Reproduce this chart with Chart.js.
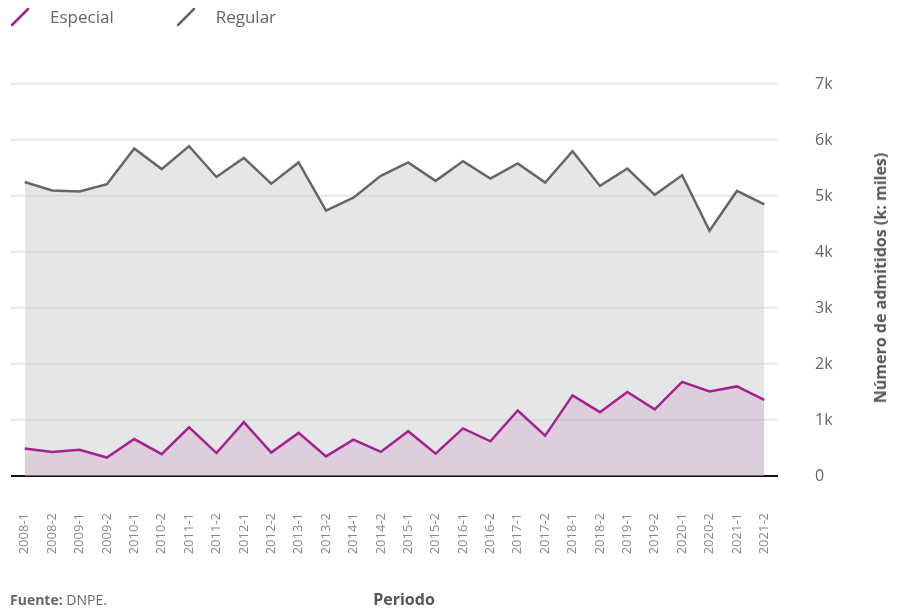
<!DOCTYPE html>
<html lang="es">
<head>
<meta charset="utf-8">
<script src="https://cdn.jsdelivr.net/npm/chart.js@4"></script>
<style>
  html, body { margin: 0; padding: 0; background: #fff; }
  body { width: 899px; height: 609px; position: relative; overflow: hidden; font-family: "Open Sans", "Noto Sans", sans-serif; color: #666; }
  #wrap { position: absolute; left: 0; top: 0; width: 899px; height: 609px; }
  .legend { position: absolute; top: 5px; left: 10px; display: flex; font-size: 17px; color: #666; }
  .legend .item { display: flex; align-items: center; margin-right: 62px; }
  .legend svg { margin-right: 20px; }
  .ytitle { position: absolute; left: 880px; top: 278px; transform: translate(-50%, -50%) rotate(-90deg); white-space: nowrap; font-weight: bold; font-size: 16px; color: #555; }
  .fuente { position: absolute; left: 10px; top: 590px; font-size: 14px; color: #666; }
  .periodo { position: absolute; left: 404px; top: 588px; transform: translateX(-50%); font-size: 16px; font-weight: bold; color: #555; }
</style>
</head>
<body>
<div id="wrap"><canvas id="chart" width="899" height="609"></canvas></div>
<div class="legend">
  <div class="item"><svg width="20" height="20"><line x1="2" y1="18" x2="18" y2="2" stroke="#a3228c" stroke-width="2.5" stroke-linecap="round"/></svg>Especial</div>
  <div class="item"><svg width="20" height="20"><line x1="2" y1="18" x2="18" y2="2" stroke="#666" stroke-width="2.5" stroke-linecap="round"/></svg>Regular</div>
</div>
<div class="ytitle">Número de admitidos (k: miles)</div>
<div class="fuente"><b>Fuente:</b> DNPE.</div>
<div class="periodo">Periodo</div>
<script>
// periodos académicos
const periodos = ['2008-1','2008-2','2009-1','2009-2','2010-1','2010-2','2011-1','2011-2','2012-1','2012-2',
  '2013-1','2013-2','2014-1','2014-2','2015-1','2015-2','2016-1','2016-2','2017-1','2017-2',
  '2018-1','2018-2','2019-1','2019-2','2020-1','2020-2','2021-1','2021-2'];

// admitidos por modalidad
const especial = [490, 430, 470, 330, 660, 390, 870, 410, 960, 420,
  770, 350, 650, 430, 800, 400, 850, 620, 1170, 720,
  1440, 1140, 1500, 1190, 1680, 1510, 1600, 1360];
const regular = [5250, 5100, 5080, 5210, 5850, 5480, 5890, 5340, 5680, 5220,
  5600, 4740, 4970, 5360, 5600, 5270, 5620, 5310, 5580, 5240,
  5800, 5180, 5490, 5020, 5370, 4380, 5090, 4850];

const yTicks = [0, 1000, 2000, 3000, 4000, 5000, 6000, 7000];

new Chart(document.getElementById('chart'), {
    type: 'line',
    data: {
        labels: periodos,
        datasets: [
            {
                label: 'Especial',
                data: especial,
                borderColor: '#a3228c',
                backgroundColor: 'rgba(160, 33, 138, 0.12)',
                borderWidth: 2.5,
                pointRadius: 0,
                fill: 'origin',
                tension: 0
            },
            {
                label: 'Regular',
                data: regular,
                borderColor: '#666666',
                backgroundColor: 'rgba(203, 205, 209, 0.5)',
                borderWidth: 2.5,
                pointRadius: 0,
                fill: 'origin',
                tension: 0
            }
        ]
    },
    options: {
        responsive: false,
        animation: false,
        layout: { padding: { left: 11, right: 0, top: 84, bottom: 0 } },
        plugins: {
            legend: { display: false },
            tooltip: { enabled: false }
        },
        scales: {
            x: {
                offset: true,
                grid: { display: false, drawTicks: false },
                border: { display: false },
                ticks: {
                    color: '#888',
                    font: { family: '"Open Sans", sans-serif', size: 13 },
                    minRotation: 90,
                    maxRotation: 90,
                    padding: 37,
                    autoSkip: false
                },
                afterFit: (scale) => {
                    scale.height = 133;
                    scale.paddingLeft = 0;
                    scale.paddingRight = 0;
                }
            },
            y: {
                position: 'right',
                min: 0,
                max: 7000,
                afterBuildTicks: (scale) => { scale.ticks = yTicks.map(v => ({ value: v })); },
                grid: {
                    drawTicks: false,
                    color: (c) => c.tick && c.tick.value === 0 ? '#111' : '#e2e2e2',
                    lineWidth: (c) => c.tick && c.tick.value === 0 ? 2 : 1.5
                },
                border: { display: false },
                ticks: {
                    color: '#666',
                    font: { family: '"Open Sans", sans-serif', size: 16 },
                    padding: 37,
                    callback: (v) => v === 0 ? '0' : (v / 1000) + 'k'
                },
                afterFit: (scale) => {
                    scale.width = 121;
                    scale.paddingTop = 0;
                    scale.paddingBottom = 0;
                }
            }
        }
    }
});
</script>
</body>
</html>
